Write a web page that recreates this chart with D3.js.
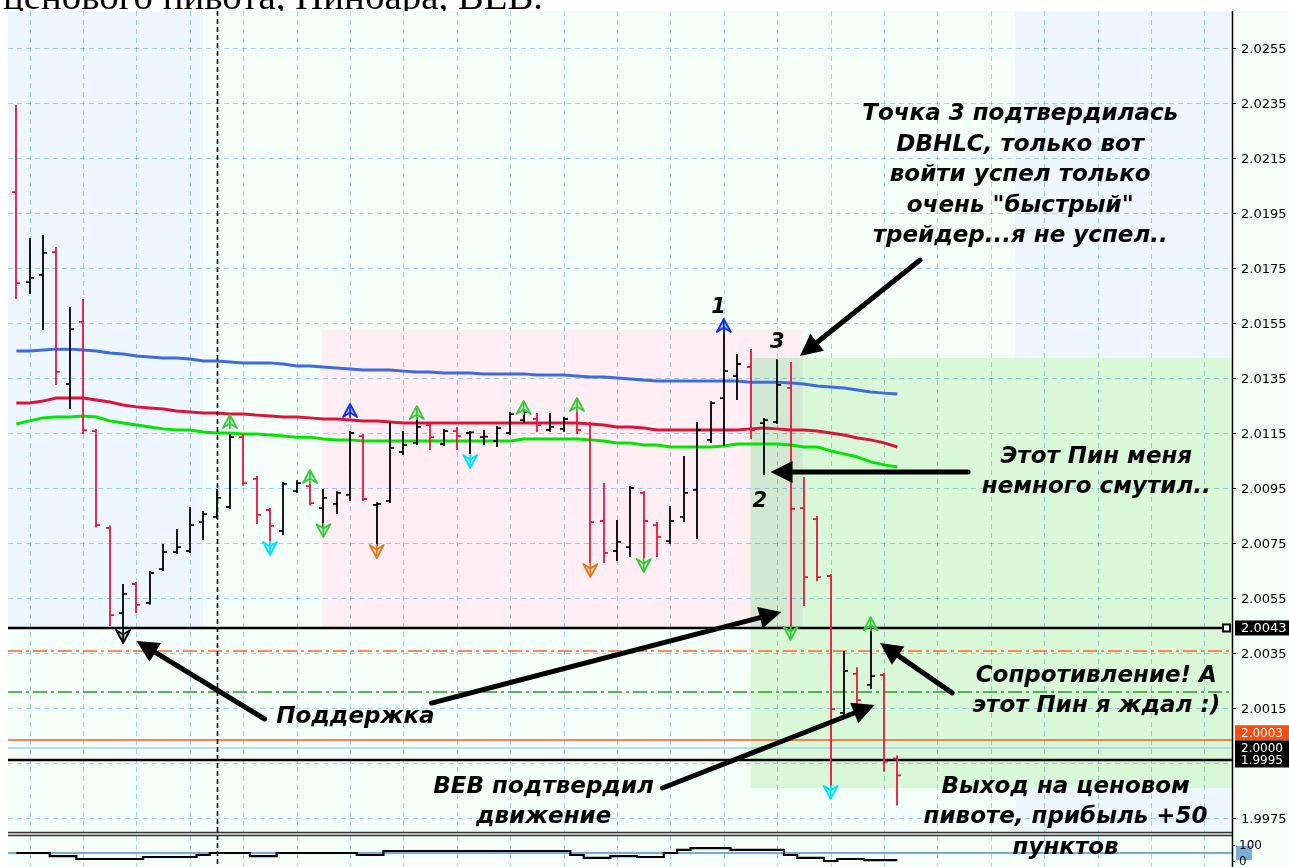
<!DOCTYPE html>
<html><head><meta charset="utf-8">
<script src="https://cdn.jsdelivr.net/npm/d3@7"></script>
<style>body{margin:0;background:#fff;overflow:hidden}svg{display:block}</style>
</head><body>
<svg id="c" width="1289" height="867"></svg>
<script>
// ---------- DATA ----------
const barOpen  = [2.02026,2.01699,2.01725,2.01808,2.01328,2.01554,2.01157,2.00805,2.00495,2.00601,2.00532,2.00655,2.00717,2.00721,2.00826,2.00845,2.00881,2.01135,2.00983,2.00870,2.00794,2.00939,2.00957,2.00877,2.00892,2.00925,2.01139,2.00889,2.00903,2.01081,2.01114,2.01179,2.01110,2.01157,2.01150,2.01135,2.01121,2.01150,2.01197,2.01201,2.01161,2.01165,2.01186,2.01183,2.00830,2.00721,2.00735,2.00932,2.00815,2.00757,2.00845,2.00943,2.01125,2.01277,2.01357,2.01390,2.01186,2.01190,2.01314,2.00877,2.00837,2.00630,2.00132,2.00274,2.00234,2.00270,1.99966];
const barHigh  = [2.02339,2.01855,2.01866,2.01823,2.01605,2.01634,2.01161,2.00810,2.00597,2.00605,2.00645,2.00743,2.00797,2.00877,2.00863,2.00943,2.01143,2.01143,2.00990,2.00874,2.00968,2.00975,2.00968,2.00943,2.00935,2.01154,2.01143,2.00895,2.01186,2.01154,2.01205,2.01186,2.01161,2.01168,2.01154,2.01157,2.01172,2.01223,2.01234,2.01219,2.01219,2.01205,2.01234,2.01186,2.00965,2.00830,2.00954,2.00935,2.00823,2.00881,2.01063,2.01186,2.01263,2.01535,2.01434,2.01452,2.01201,2.01415,2.01405,2.00986,2.00845,2.00634,2.00354,2.00295,2.00441,2.00274,1.99974];
const barLow   = [2.01641,2.01659,2.01528,2.01328,2.01241,2.01150,2.00810,2.00452,2.00441,2.00499,2.00530,2.00652,2.00715,2.00717,2.00765,2.00842,2.00878,2.00962,2.00823,2.00761,2.00783,2.00936,2.00890,2.00808,2.00859,2.00906,2.00906,2.00743,2.00899,2.01074,2.01110,2.01092,2.01106,2.01092,2.01077,2.01110,2.01103,2.01147,2.01190,2.01157,2.01157,2.01157,2.01150,2.00681,2.00681,2.00688,2.00703,2.00699,2.00703,2.00750,2.00830,2.00768,2.01117,2.01106,2.01274,2.01132,2.01001,2.01186,2.00441,2.00525,2.00615,1.99870,2.00125,2.00132,2.00223,1.99923,1.99799];
const barClose = [2.01695,2.01714,2.01805,2.01372,2.01528,2.01160,2.00815,2.00488,2.00565,2.00525,2.00641,2.00717,2.00735,2.00815,2.00855,2.00914,2.01135,2.00968,2.00852,2.00812,2.00965,2.00968,2.00895,2.00914,2.00932,2.01150,2.00910,2.00892,2.01095,2.01106,2.01172,2.01135,2.01157,2.01139,2.01152,2.01137,2.01168,2.01219,2.01226,2.01179,2.01172,2.01201,2.01161,2.00826,2.00714,2.00754,2.00950,2.00830,2.00772,2.00830,2.00932,2.01161,2.01259,2.01375,2.01401,2.01161,2.01197,2.01325,2.00874,2.00626,2.00626,2.00146,2.00285,2.00179,2.00266,1.99955,1.99905];

const maBlue  = [2.01448,2.01448,2.01452,2.01455,2.01455,2.01452,2.01448,2.01441,2.01437,2.01430,2.01426,2.01423,2.01423,2.01419,2.01412,2.01412,2.01408,2.01405,2.01405,2.01405,2.01401,2.01394,2.01394,2.01390,2.01386,2.01383,2.01379,2.01379,2.01379,2.01375,2.01372,2.01372,2.01368,2.01368,2.01368,2.01365,2.01365,2.01365,2.01365,2.01361,2.01361,2.01361,2.01357,2.01354,2.01354,2.01350,2.01346,2.01343,2.01339,2.01339,2.01339,2.01339,2.01339,2.01339,2.01339,2.01335,2.01335,2.01335,2.01332,2.01328,2.01321,2.01317,2.01314,2.01306,2.01299,2.01295,2.01292];
const maRed   = [2.01259,2.01259,2.01266,2.01277,2.01277,2.01277,2.01270,2.01263,2.01252,2.01245,2.01241,2.01237,2.01230,2.01226,2.01223,2.01223,2.01219,2.01219,2.01215,2.01212,2.01208,2.01208,2.01205,2.01201,2.01201,2.01197,2.01194,2.01194,2.01190,2.01186,2.01186,2.01186,2.01186,2.01186,2.01186,2.01186,2.01186,2.01186,2.01186,2.01186,2.01186,2.01186,2.01186,2.01183,2.01179,2.01172,2.01172,2.01168,2.01161,2.01161,2.01161,2.01161,2.01161,2.01161,2.01161,2.01165,2.01168,2.01165,2.01161,2.01161,2.01157,2.01150,2.01143,2.01132,2.01125,2.01114,2.01099];
const maGreen = [2.01183,2.01194,2.01205,2.01208,2.01208,2.01212,2.01208,2.01194,2.01186,2.01179,2.01172,2.01165,2.01161,2.01161,2.01154,2.01150,2.01150,2.01146,2.01146,2.01143,2.01139,2.01135,2.01135,2.01128,2.01125,2.01125,2.01121,2.01121,2.01121,2.01121,2.01121,2.01121,2.01121,2.01121,2.01121,2.01121,2.01121,2.01121,2.01128,2.01128,2.01128,2.01128,2.01128,2.01125,2.01121,2.01114,2.01114,2.01106,2.01106,2.01099,2.01099,2.01099,2.01099,2.01103,2.01110,2.01110,2.01110,2.01110,2.01106,2.01099,2.01099,2.01085,2.01074,2.01063,2.01045,2.01034,2.01026];

// fractal arrows: bar index, price, direction, colour
const fractalBar   = [8,16,19,22,23,25,27,30,34,38,42,43,47,53,58,61,64];
const fractalPrice = [2.00412,2.01190,2.00732,2.00990,2.00797,2.01230,2.00721,2.01223,2.01048,2.01241,2.01252,2.00652,2.00670,2.01539,2.00423,1.99845,2.00455];
const fractalDir   = ['d','u','d','u','d','u','d','u','d','u','u','d','d','u','d','d','u'];
const fractalColor = ['#000000','#3cc83c','#00e0ff','#3cc83c','#3cc83c','#0a2cff','#e07a22','#3cc83c','#00e0ff','#3cc83c','#3cc83c','#e07a22','#3cc83c','#0a2cff','#3cc83c','#00e0ff','#3cc83c'];

// oscillator in the lower pane (0..100)
const oscValues = [50,50,50,31,31,12.5,12.5,12.5,12.5,12.5,25,25,25,25,37.5,50,50,50,31,31,50,50,50,50,50,50,37.5,37.5,62.5,62.5,62.5,62.5,62.5,62.5,62.5,62.5,62.5,62.5,62.5,62.5,62.5,62.5,37.5,19,19,31,31,25,25,50,69,81,81,81,69,69,69,69,37.5,19,19,0,12.5,12.5,6,6,6];
const oscLevel = 50;

// price axis ticks (1.9995 sits under its level label)
const gridPrices = [1.9975,1.9995,2.0015,2.0035,2.0055,2.0075,2.0095,2.0115,2.0135,2.0155,2.0175,2.0195,2.0215,2.0235,2.0255];
const tickPrices = [1.9975,2.0015,2.0035,2.0055,2.0075,2.0095,2.0115,2.0135,2.0155,2.0175,2.0195,2.0215,2.0235,2.0255];
const gridBars = d3.range(1, 90, 4);
const oscTicks = [0, 100];

// horizontal levels
const levelPrice = [2.00441, 2.00357, 2.00208, 2.00034, 2.00005, 1.99961];
const levelColor = ['#000000', '#ff6428', '#24a024', '#ff5a1e', '#a8d0e6', '#000000'];
const levelWidth = [2.5, 1.5, 1.5, 1.5, 1.5, 2.5];
const levelDash  = [null, '14,4,3,4', '14,4,3,4', null, null, null];
const levelLabel = [{p:2.00441,t:'2.0043',bg:'#000',fs:13},{p:2.00060,t:'2.0003',bg:'#ff4a10',fs:12},{p:2.00005,t:'2.0000',bg:'#000',fs:12},{p:1.99961,t:'1.9995',bg:'#000',fs:12}];

// background zones (bar index from/to, price top/bottom)
const zoneFrom  = [-3, 74.8, 22.9, 55.0, 55.0];
const zoneTo    = [14.0, 96, 58.9, 96, 58.9];
const zoneTop   = [2.0280, 2.0280, 2.01525, 2.01423, 2.01423];
const zoneBot   = [2.00441, 1.9960, 2.00441, 1.99859, 2.00441];
const zoneColor = ['#eef6ff', '#eef6ff', '#ffeef3', '#d8f8d8', '#d2e8d2'];
const sessionLineBar = 15;

// annotations
const noteArrows = [
  {i1:67.7,p1:2.01779,i2:58.7,p2:2.01430},
  {i1:71.3,p1:2.01008,i2:56.5,p2:2.01008},
  {i1:18.6,p1:2.00110,i2:9.0, p2:2.00394},
  {i1:31.1,p1:2.00168,i2:57.3,p2:2.00499},
  {i1:70.1,p1:2.00205,i2:64.7,p2:2.00386},
  {i1:48.4,p1:1.99859,i2:64.3,p2:2.00161}
];
const noteTexts = [
  {i:75.2,p:2.02288,lines:['Точка 3 подтвердилась','DBHLC, только вот','войти успел только','очень "быстрый"','трейдер...я не успел..']},
  {i:80.9,p:2.01041,lines:['Этот Пин меня','немного смутил..']},
  {i:80.9,p:2.00245,lines:['Сопротивление! А','этот Пин я ждал :)']},
  {i:78.6,p:1.99841,lines:['Выход на ценовом','пивоте, прибыль +50','пунктов']},
  {i:25.4,p:2.00095,lines:['Поддержка']},
  {i:39.5,p:1.99841,lines:['BEB подтвердил','движение']}
];
const pointLabels = [{i:52.6,p:2.01586,t:'1'},{i:55.7,p:2.00881,t:'2'},{i:57.0,p:2.01459,t:'3'}];
const headline = 'ценового пивота, Пинбара, BEB.';

// ---------- LAYOUT ----------
const W = 1289, H = 867, L = 8, R = 1232, T = 11, B = 832, IT = 836;
const svg = d3.select('#c');
const x = d3.scaleLinear().domain([0, 66]).range([16.3, 897.4]);
const y = d3.scaleLinear().domain([2.0055, 2.0255]).range([598, 48]);
const yo = d3.scaleLinear().domain([0, 100]).range([861, 845]);

const defs = svg.append('defs');
defs.append('clipPath').attr('id','cm').append('rect').attr('x',L).attr('y',T).attr('width',R-L).attr('height',B-T);
defs.append('clipPath').attr('id','ci').append('rect').attr('x',L).attr('y',IT).attr('width',R-L).attr('height',H-IT);

// headline text (page text above the screenshot)
svg.append('text').attr('x',3).attr('y',9).attr('font-family','Liberation Serif, serif')
  .attr('font-size',38).attr('textLength',540).attr('lengthAdjust','spacingAndGlyphs').attr('fill','#000').text(headline);

// chart background
svg.append('rect').attr('x',L).attr('y',T).attr('width',W-L).attr('height',H-T).attr('fill','#f5fffa');

const gm = svg.append('g').attr('clip-path','url(#cm)');
zoneColor.forEach((c,k)=>{
  gm.append('rect').attr('x',x(zoneFrom[k])).attr('width',x(zoneTo[k])-x(zoneFrom[k]))
    .attr('y',y(zoneTop[k])).attr('height',y(zoneBot[k])-y(zoneTop[k])).attr('fill',c);
});

// grid
const gridStyle = s => s.attr('stroke','#a6d6ea').attr('stroke-width',1).attr('stroke-dasharray','5,4').style('mix-blend-mode','multiply');
gm.selectAll('.hg').data(gridPrices).join('line').attr('x1',L).attr('x2',R)
  .attr('y1',d=>Math.round(y(d))+0.5).attr('y2',d=>Math.round(y(d))+0.5).call(gridStyle);
gm.selectAll('.vg').data(gridBars).join('line').attr('y1',T).attr('y2',B)
  .attr('x1',d=>Math.round(x(d))+0.5).attr('x2',d=>Math.round(x(d))+0.5).call(gridStyle);

// indicator pane grid
const gi = svg.append('g').attr('clip-path','url(#ci)');
gi.selectAll('line').data(gridBars).join('line').attr('y1',IT).attr('y2',H)
  .attr('x1',d=>Math.round(x(d))+0.5).attr('x2',d=>Math.round(x(d))+0.5).call(gridStyle);

// levels
levelPrice.forEach((p,k)=>{
  gm.append('line').attr('x1',L).attr('x2', k===0 ? R-9 : R)
    .attr('y1',y(p)).attr('y2',y(p)).attr('stroke',levelColor[k]).attr('stroke-width',levelWidth[k])
    .attr('stroke-dasharray',levelDash[k]);
});
gm.append('rect').attr('x',R-9).attr('y',y(levelPrice[0])-3.5).attr('width',7).attr('height',7)
  .attr('fill','#fff').attr('stroke','#000').attr('stroke-width',2);

// session line
svg.append('line').attr('x1',Math.round(x(sessionLineBar))+0.5).attr('x2',Math.round(x(sessionLineBar))+0.5)
  .attr('y1',T).attr('y2',H).attr('stroke','#000').attr('stroke-width',1.6).attr('stroke-dasharray','5,3');

// moving averages
const maLine = d3.line().x((d,i)=>x(i)).y(d=>y(d));
[[maBlue,'#3f6be0'],[maRed,'#dc143c'],[maGreen,'#00e600']].forEach(([arr,c])=>{
  gm.append('path').attr('d',maLine(arr)).attr('fill','none').attr('stroke',c).attr('stroke-width',3);
});

// OHLC bars
const bx = i => Math.round(x(i));
gm.selectAll('.bar').data(barOpen).join('path')
  .attr('d',(o,i)=>{
    const cx = bx(i);
    return `M${cx},${y(barHigh[i])-1}V${y(barLow[i])+1}M${cx-4},${y(o)}H${cx}M${cx},${y(barClose[i])}H${cx+4}`;
  })
  .attr('fill','none').attr('stroke-width',1.8)
  .attr('stroke',(o,i)=> barClose[i] < o ? '#e8173e' : '#000');

// fractal arrows
fractalBar.forEach((b,k)=>{
  const cx = x(b), cy = y(fractalPrice[k]), s = fractalDir[k]==='u' ? 1 : -1;
  const c = fractalColor[k];
  gm.append('path')
    .attr('d',`M${cx},${cy-7*s}L${cx+7},${cy+6*s}L${cx},${cy+1.5*s}L${cx-7},${cy+6*s}Z`)
    .attr('fill',c).attr('fill-opacity',0.25).attr('stroke',c).attr('stroke-width',1.8).attr('stroke-linejoin','round');
  gm.append('path').attr('d',`M${cx},${cy-5*s}V${cy+7*s}`).attr('stroke',c).attr('stroke-width',1.8);
});

// oscillator pane
gi.append('line').attr('x1',L).attr('x2',R).attr('y1',yo(oscLevel)).attr('y2',yo(oscLevel))
  .attr('stroke','#4f8fc4').attr('stroke-width',1.5);
gi.append('path').attr('d',d3.line().curve(d3.curveStep).x((d,i)=>x(i)).y(d=>yo(d))(oscValues))
  .attr('fill','none').attr('stroke','#000').attr('stroke-width',2.2);

// pane separator
svg.append('rect').attr('x',L).attr('y',B+1.5).attr('width',R-L).attr('height',IT-B-3).attr('fill','#d8d8d8');
svg.append('line').attr('x1',L).attr('x2',R).attr('y1',B+0.5).attr('y2',B+0.5).attr('stroke','#333').attr('stroke-width',1.5);
svg.append('line').attr('x1',L).attr('x2',R).attr('y1',IT-0.5).attr('y2',IT-0.5).attr('stroke','#333').attr('stroke-width',1.5);

// price axis
const ax = svg.append('g').attr('transform',`translate(${R},0)`)
  .call(d3.axisRight(y).tickValues(tickPrices).tickFormat(d3.format('.4f')).tickSize(4).tickPadding(5));
ax.select('.domain').remove();
ax.selectAll('text').attr('font-family','DejaVu Sans, sans-serif').attr('font-size',13).attr('fill','#000');
ax.selectAll('line').attr('stroke','#000');
svg.append('line').attr('x1',R+0.5).attr('x2',R+0.5).attr('y1',T).attr('y2',H).attr('stroke','#000').attr('stroke-width',1.5);

// level labels
levelLabel.forEach(l=>{
  const cy = y(l.p);
  svg.append('rect').attr('x',R+3).attr('y',cy-7.5).attr('width',W-R-3).attr('height',15).attr('fill',l.bg);
  svg.append('text').attr('x',R+9).attr('y',cy+4.5).attr('font-family','DejaVu Sans, sans-serif')
    .attr('font-size',l.fs).attr('fill','#fff').text(l.t);
});

// oscillator axis
svg.append('rect').attr('x',R+4).attr('y',yo(oscLevel)-7).attr('width',16).attr('height',14).attr('fill','#5a9ad0').attr('opacity',0.8);
const ax2 = svg.append('g').attr('transform',`translate(${R},0)`)
  .call(d3.axisRight(yo).tickValues(oscTicks).tickFormat(d3.format('d')).tickSize(3).tickPadding(4));
ax2.select('.domain').remove();
ax2.selectAll('text').attr('font-family','DejaVu Sans, sans-serif').attr('font-size',12).attr('fill','#000');
ax2.selectAll('line').attr('stroke','#000');

// annotation arrows
noteArrows.forEach(a=>{
  const x1=x(a.i1), y1=y(a.p1), x2=x(a.i2), y2=y(a.p2);
  const ang = Math.atan2(y2-y1, x2-x1), hl = 22, hw = 11;
  const hx = x2 - hl*Math.cos(ang), hy = y2 - hl*Math.sin(ang);
  svg.append('line').attr('x1',x1).attr('y1',y1).attr('x2',hx).attr('y2',hy)
    .attr('stroke','#000').attr('stroke-width',5).attr('stroke-linecap','round');
  svg.append('path').attr('d',`M${x2},${y2}L${hx+hw*Math.sin(ang)},${hy-hw*Math.cos(ang)}L${hx-hw*Math.sin(ang)},${hy+hw*Math.cos(ang)}Z`)
    .attr('fill','#000');
});

// annotation texts
noteTexts.forEach(n=>{
  const t = svg.append('text').attr('font-family','DejaVu Sans, sans-serif').attr('font-weight','bold')
    .attr('font-style','italic').attr('font-size',23).attr('text-anchor','middle').attr('fill','#000');
  n.lines.forEach((ln,k)=>{
    t.append('tspan').attr('x',x(n.i)).attr('y',y(n.p)+k*30.5).text(ln);
  });
});
pointLabels.forEach(p=>{
  svg.append('text').attr('x',x(p.i)).attr('y',y(p.p)).attr('text-anchor','middle')
    .attr('font-family','DejaVu Sans, sans-serif').attr('font-weight','bold').attr('font-style','italic')
    .attr('font-size',21).attr('fill','#000').text(p.t);
});
</script>
</body></html>
